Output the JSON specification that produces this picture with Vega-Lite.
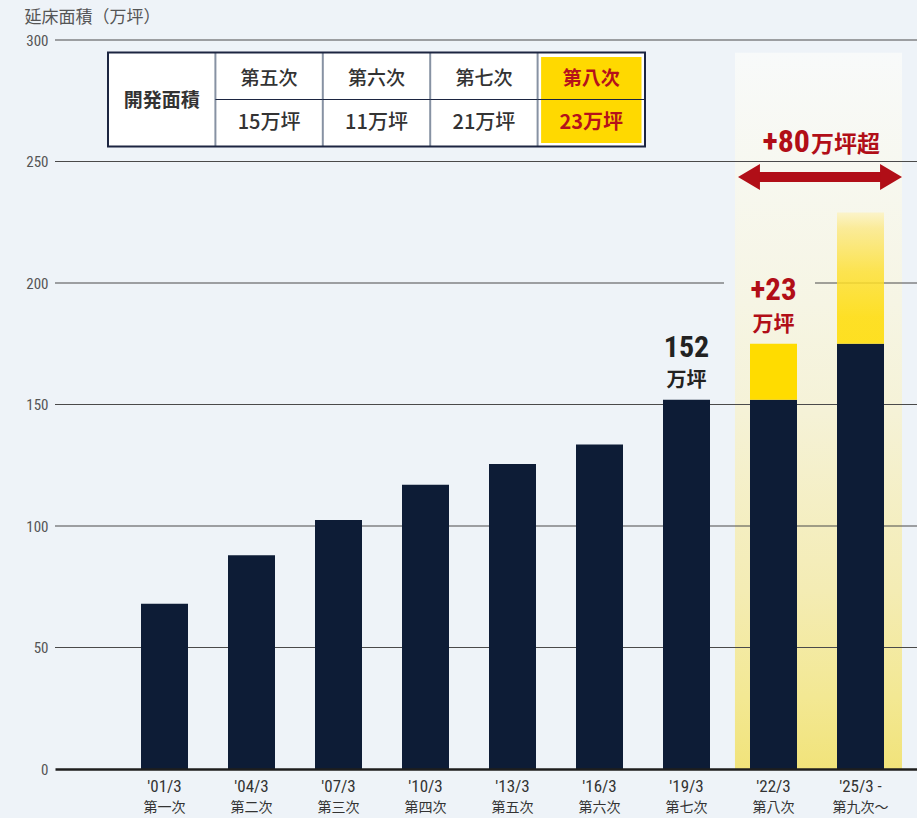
{
  "$schema": "https://vega.github.io/schema/vega-lite/v6.json",
  "width": 862,
  "height": 729,
  "autosize": {"type": "none"},
  "padding": {"left": 55, "top": 40, "right": 0, "bottom": 49},
  "background": "#eef3f8",
  "config": {"view": {"stroke": null}, "font": "Noto Sans CJK JP"},
  "datasets": {
    "bars": [
      {"period": "'01/3|第一次", "value": 68},
      {"period": "'04/3|第二次", "value": 88},
      {"period": "'07/3|第三次", "value": 102.5},
      {"period": "'10/3|第四次", "value": 117},
      {"period": "'13/3|第五次", "value": 125.5},
      {"period": "'16/3|第六次", "value": 133.5},
      {"period": "'19/3|第七次", "value": 152},
      {"period": "'22/3|第八次", "value": 152},
      {"period": "'25/3 -|第九次〜", "value": 175}
    ],
    "additions": [
      {"period": "'22/3|第八次", "stage": "第八次", "base": 152, "value": 175, "label": "+23"},
      {"period": "'25/3 -|第九次〜", "stage": "第九次以降", "base": 175, "value": 229}
    ],
    "highlight": [{"u0": 7.557, "u1": 9.477, "top": 294.8}],
    "grid": [{"v": 50}, {"v": 100}, {"v": 150}, {"v": 250}, {"v": 300}],
    "grid_split": [{"v": 200, "u0": -0.2586, "u1": 7.431}, {"v": 200, "u0": 8.477, "u1": 9.6494}],
    "arrow": [{"end": "left", "u": 7.718, "v": 243.6}, {"end": "right", "u": 9.351, "v": 243.6}],
    "total_label": [{"u": 8.4195, "v": 254, "increase": "+80", "unit": "万坪超"}],
    "table": [
      {"c": 0, "c2": 1, "r": 0, "r2": 2, "text": "開発面積"},
      {"c": 1, "c2": 2, "r": 0, "r2": 1, "text": "第五次"},
      {"c": 1, "c2": 2, "r": 1, "r2": 2, "text": "15万坪"},
      {"c": 2, "c2": 3, "r": 0, "r2": 1, "text": "第六次"},
      {"c": 2, "c2": 3, "r": 1, "r2": 2, "text": "11万坪"},
      {"c": 3, "c2": 4, "r": 0, "r2": 1, "text": "第七次"},
      {"c": 3, "c2": 4, "r": 1, "r2": 2, "text": "21万坪"},
      {"c": 4, "c2": 5, "r": 0, "r2": 1, "text": "第八次"},
      {"c": 4, "c2": 5, "r": 1, "r2": 2, "text": "23万坪"}
    ]
  },
  "layer": [
    {
      "layer": [
        {
          "data": {"name": "highlight"},
          "mark": {"type": "rect", "fill": {"gradient": "linear", "x1": 0, "y1": 0, "x2": 0, "y2": 1, "stops": [
            {"offset": 0, "color": "#f8fafa"},
            {"offset": 0.35, "color": "#f6f5e4"},
            {"offset": 0.5, "color": "#f5f2d7"},
            {"offset": 0.75, "color": "#f4ecb4"},
            {"offset": 0.9, "color": "#f3e893"},
            {"offset": 1, "color": "#f1e37a"}
          ]}},
          "encoding": {
            "x": {"field": "u0", "type": "quantitative", "scale": {"domain": [-0.2586, 9.6494], "nice": false, "zero": false}, "axis": null},
            "x2": {"field": "u1"},
            "y": {"field": "top", "type": "quantitative", "scale": {"domain": [0, 300], "nice": false}, "axis": null},
            "y2": {"datum": 0}
          }
        },
        {
          "data": {"name": "grid"},
          "mark": {"type": "rule", "color": "#4a4a4a", "strokeWidth": 1.2},
          "encoding": {
            "y": {"field": "v", "type": "quantitative", "scale": {"domain": [0, 300], "nice": false}, "axis": null}
          }
        },
        {
          "data": {"name": "grid_split"},
          "mark": {"type": "rule", "color": "#4a4a4a", "strokeWidth": 1.2},
          "encoding": {
            "x": {"field": "u0", "type": "quantitative", "scale": {"domain": [-0.2586, 9.6494], "nice": false, "zero": false}, "axis": null},
            "x2": {"field": "u1"},
            "y": {"field": "v", "type": "quantitative", "scale": {"domain": [0, 300], "nice": false}, "axis": null}
          }
        }
      ]
    },
    {
      "encoding": {
        "y": {
          "field": "value", "type": "quantitative",
          "scale": {"domain": [0, 300], "nice": false, "zero": true},
          "axis": {
            "title": "延床面積（万坪）", "values": [0, 50, 100, 150, 200, 250, 300],
            "domain": false, "ticks": false, "grid": false, "labelPadding": 7,
            "labelFont": "Roboto Condensed, DejaVu Sans Condensed, Roboto", "labelFontSize": 15, "labelColor": "#555555",
            "titleAngle": 0, "titleAlign": "left", "titleBaseline": "middle", "titleX": -31, "titleY": -23,
            "titleFontSize": 17, "titleFontWeight": "normal", "titleColor": "#555555", "titleFont": "Noto Sans CJK JP"
          }
        }
      },
      "layer": [
        {
          "data": {"name": "bars"},
          "mark": {"type": "bar", "color": "#0d1c36"},
          "encoding": {
            "x": {
              "field": "period", "type": "nominal",
              "scale": {"paddingInner": 0.45977, "paddingOuter": 0.68391, "align": 0.7227},
              "axis": {
                "orient": "bottom", "title": null, "domain": true, "domainColor": "#1e1e1e", "domainWidth": 2.5,
                "ticks": false, "labelAngle": 0, "labelExpr": "split(datum.value, '|')[0]",
                "labelFont": "Roboto Condensed, DejaVu Sans Condensed, Roboto", "labelFontSize": 17, "labelColor": "#333333",
                "labelPadding": 9, "zindex": 1
              }
            }
          }
        },
        {
          "data": {"name": "additions"},
          "transform": [{"filter": "datum.stage === '第八次'"}],
          "mark": {"type": "bar", "color": "#ffdc00"},
          "encoding": {
            "x": {
              "field": "period", "type": "nominal",
              "scale": {"paddingInner": 0.45977, "paddingOuter": 0.68391, "align": 0.7227},
              "axis": {
                "orient": "bottom", "title": null, "domain": false, "ticks": false, "labelAngle": 0,
                "labelExpr": "split(datum.value, '|')[1]",
                "labelFont": "Noto Sans CJK JP", "labelFontSize": 14, "labelColor": "#333333",
                "labelPadding": 31
              }
            },
            "y2": {"field": "base"}
          }
        },
        {
          "data": {"name": "additions"},
          "transform": [{"filter": "datum.stage === '第九次以降'"}],
          "mark": {"type": "bar", "fillOpacity": 0.85, "fill": {"gradient": "linear", "x1": 0, "y1": 0, "x2": 0, "y2": 1, "stops": [
            {"offset": 0, "color": "#fcf3c4"},
            {"offset": 0.12, "color": "#fbe98a"},
            {"offset": 0.45, "color": "#fde035"},
            {"offset": 0.8, "color": "#ffdc05"},
            {"offset": 1, "color": "#ffdc00"}
          ]}},
          "encoding": {
            "x": {"field": "period", "type": "nominal", "axis": null},
            "y2": {"field": "base"}
          }
        },
        {
          "data": {"name": "bars"},
          "transform": [{"filter": "datum.period === \"'19/3|第七次\""}],
          "mark": {"type": "text", "align": "center", "baseline": "alphabetic", "dy": -43, "font": "Roboto Condensed, DejaVu Sans Condensed, Roboto", "fontWeight": "bold", "fontSize": 30, "color": "#222222"},
          "encoding": {
            "x": {"field": "period", "type": "nominal", "axis": null},
            "text": {"field": "value", "type": "quantitative", "format": "d"}
          }
        },
        {
          "data": {"name": "bars"},
          "transform": [{"filter": "datum.period === \"'19/3|第七次\""}],
          "mark": {"type": "text", "align": "center", "baseline": "alphabetic", "dy": -13, "fontWeight": "bold", "fontSize": 20, "color": "#222222"},
          "encoding": {
            "x": {"field": "period", "type": "nominal", "axis": null},
            "text": {"value": "万坪"}
          }
        },
        {
          "data": {"name": "additions"},
          "transform": [{"filter": "datum.stage === '第八次'"}],
          "mark": {"type": "text", "align": "center", "baseline": "alphabetic", "dy": -44, "font": "Roboto Condensed, DejaVu Sans Condensed, Roboto", "fontWeight": "bold", "fontSize": 31, "color": "#b10e17"},
          "encoding": {
            "x": {"field": "period", "type": "nominal", "axis": null},
            "text": {"field": "label"}
          }
        },
        {
          "data": {"name": "additions"},
          "transform": [{"filter": "datum.stage === '第八次'"}],
          "mark": {"type": "text", "align": "center", "baseline": "alphabetic", "dy": -12.5, "fontWeight": "bold", "fontSize": 21, "color": "#b10e17"},
          "encoding": {
            "x": {"field": "period", "type": "nominal", "axis": null},
            "text": {"value": "万坪"}
          }
        }
      ],
      "resolve": {"axis": {"x": "independent"}}
    },
    {
      "layer": [
        {
          "data": {"name": "arrow"},
          "mark": {"type": "line", "color": "#b10e17", "strokeWidth": 10, "strokeCap": "butt"},
          "encoding": {
            "x": {"field": "u", "type": "quantitative", "scale": {"domain": [-0.2586, 9.6494], "nice": false, "zero": false}, "axis": null},
            "y": {"field": "v", "type": "quantitative", "scale": {"domain": [0, 300], "nice": false}, "axis": null}
          }
        },
        {
          "data": {"name": "arrow"},
          "mark": {"type": "point", "filled": true, "opacity": 1, "color": "#b10e17", "size": 676, "strokeWidth": 0},
          "encoding": {
            "x": {"field": "u", "type": "quantitative", "scale": {"domain": [-0.2586, 9.6494], "nice": false, "zero": false}, "axis": null},
            "y": {"field": "v", "type": "quantitative", "scale": {"domain": [0, 300], "nice": false}, "axis": null},
            "shape": {"condition": {"test": "datum.end === 'left'", "value": "M-0.846,0L0.846,-1L0.846,1Z"}, "value": "M0.846,0L-0.846,-1L-0.846,1Z"}
          }
        },
        {
          "data": {"name": "total_label"},
          "mark": {"type": "text", "align": "right", "baseline": "alphabetic", "font": "Roboto Condensed, DejaVu Sans Condensed, Roboto", "fontWeight": "bold", "fontSize": 32, "color": "#b10e17"},
          "encoding": {
            "x": {"field": "u", "type": "quantitative", "scale": {"domain": [-0.2586, 9.6494], "nice": false, "zero": false}, "axis": null},
            "y": {"field": "v", "type": "quantitative", "scale": {"domain": [0, 300], "nice": false}, "axis": null},
            "text": {"field": "increase"}
          }
        },
        {
          "data": {"name": "total_label"},
          "mark": {"type": "text", "align": "left", "baseline": "alphabetic", "dx": 1, "fontWeight": "bold", "fontSize": 23, "color": "#b10e17"},
          "encoding": {
            "x": {"field": "u", "type": "quantitative", "scale": {"domain": [-0.2586, 9.6494], "nice": false, "zero": false}, "axis": null},
            "y": {"field": "v", "type": "quantitative", "scale": {"domain": [0, 300], "nice": false}, "axis": null},
            "text": {"field": "unit"}
          }
        }
      ]
    },
    {
      "data": {"name": "table"},
      "encoding": {
        "x": {"field": "c", "type": "quantitative", "scale": {"domain": [-0.4935, 7.5326], "nice": false, "zero": false}, "axis": null},
        "y": {"field": "r", "type": "quantitative", "scale": {"domain": [-0.266, 15.245], "reverse": true, "nice": false, "zero": false}, "axis": null}
      },
      "layer": [
        {
          "transform": [{"aggregate": [{"op": "min", "field": "c", "as": "c"}, {"op": "max", "field": "c2", "as": "c2"}, {"op": "min", "field": "r", "as": "r"}, {"op": "max", "field": "r2", "as": "r2"}]}],
          "mark": {"type": "rect", "fill": "#ffffff"},
          "encoding": {"x2": {"field": "c2"}, "y2": {"field": "r2"}}
        },
        {
          "transform": [{"filter": "datum.c === 4"}, {"aggregate": [{"op": "min", "field": "r", "as": "r"}, {"op": "max", "field": "r2", "as": "r2"}], "groupby": ["c", "c2"]}],
          "mark": {"type": "rect", "fill": "#ffd900", "xOffset": 3.5, "x2Offset": -3.5, "yOffset": 4.5, "y2Offset": -3.5},
          "encoding": {"x2": {"field": "c2"}, "y2": {"field": "r2"}}
        },
        {
          "transform": [{"filter": "datum.c >= 1"}, {"aggregate": [{"op": "min", "field": "r", "as": "r"}, {"op": "max", "field": "r2", "as": "r2"}], "groupby": ["c"]}],
          "mark": {"type": "rule", "color": "#8792a3", "strokeWidth": 2},
          "encoding": {"y2": {"field": "r2"}}
        },
        {
          "transform": [{"filter": "datum.r === 1 && datum.c >= 1"}],
          "mark": {"type": "rule", "color": "#1c2541", "strokeWidth": 1.2},
          "encoding": {"x2": {"field": "c2"}}
        },
        {
          "transform": [{"aggregate": [{"op": "min", "field": "c", "as": "c"}, {"op": "max", "field": "c2", "as": "c2"}, {"op": "min", "field": "r", "as": "r"}, {"op": "max", "field": "r2", "as": "r2"}]}],
          "mark": {"type": "rect", "fill": null, "fillOpacity": 0, "stroke": "#1c2541", "strokeWidth": 2},
          "encoding": {"x2": {"field": "c2"}, "y2": {"field": "r2"}}
        },
        {
          "transform": [{"filter": "datum.c === 0"}],
          "mark": {"type": "text", "align": "center", "baseline": "middle", "dx": 53.7, "dy": 48, "fontWeight": "bold", "fontSize": 19, "color": "#333333"},
          "encoding": {"text": {"field": "text"}}
        },
        {
          "transform": [{"filter": "datum.c >= 1 && datum.c <= 3 && datum.r === 0"}],
          "mark": {"type": "text", "align": "center", "baseline": "middle", "dx": 53.7, "dy": 26, "fontWeight": 500, "fontSize": 19, "color": "#333333"},
          "encoding": {"text": {"field": "text"}}
        },
        {
          "transform": [{"filter": "datum.c >= 1 && datum.c <= 3 && datum.r === 1"}],
          "mark": {"type": "text", "align": "center", "baseline": "middle", "dx": 53.7, "dy": 23, "fontWeight": 500, "fontSize": 20, "color": "#333333"},
          "encoding": {"text": {"field": "text"}}
        },
        {
          "transform": [{"filter": "datum.c === 4 && datum.r === 0"}],
          "mark": {"type": "text", "align": "center", "baseline": "middle", "dx": 53.7, "dy": 26, "fontWeight": "bold", "fontSize": 19, "color": "#b5121b"},
          "encoding": {"text": {"field": "text"}}
        },
        {
          "transform": [{"filter": "datum.c === 4 && datum.r === 1"}],
          "mark": {"type": "text", "align": "center", "baseline": "middle", "dx": 53.7, "dy": 23, "fontWeight": "bold", "fontSize": 20, "color": "#b5121b"},
          "encoding": {"text": {"field": "text"}}
        }
      ]
    }
  ],
  "resolve": {
    "scale": {"x": "independent", "y": "independent"},
    "axis": {"x": "independent", "y": "independent"}
  }
}
